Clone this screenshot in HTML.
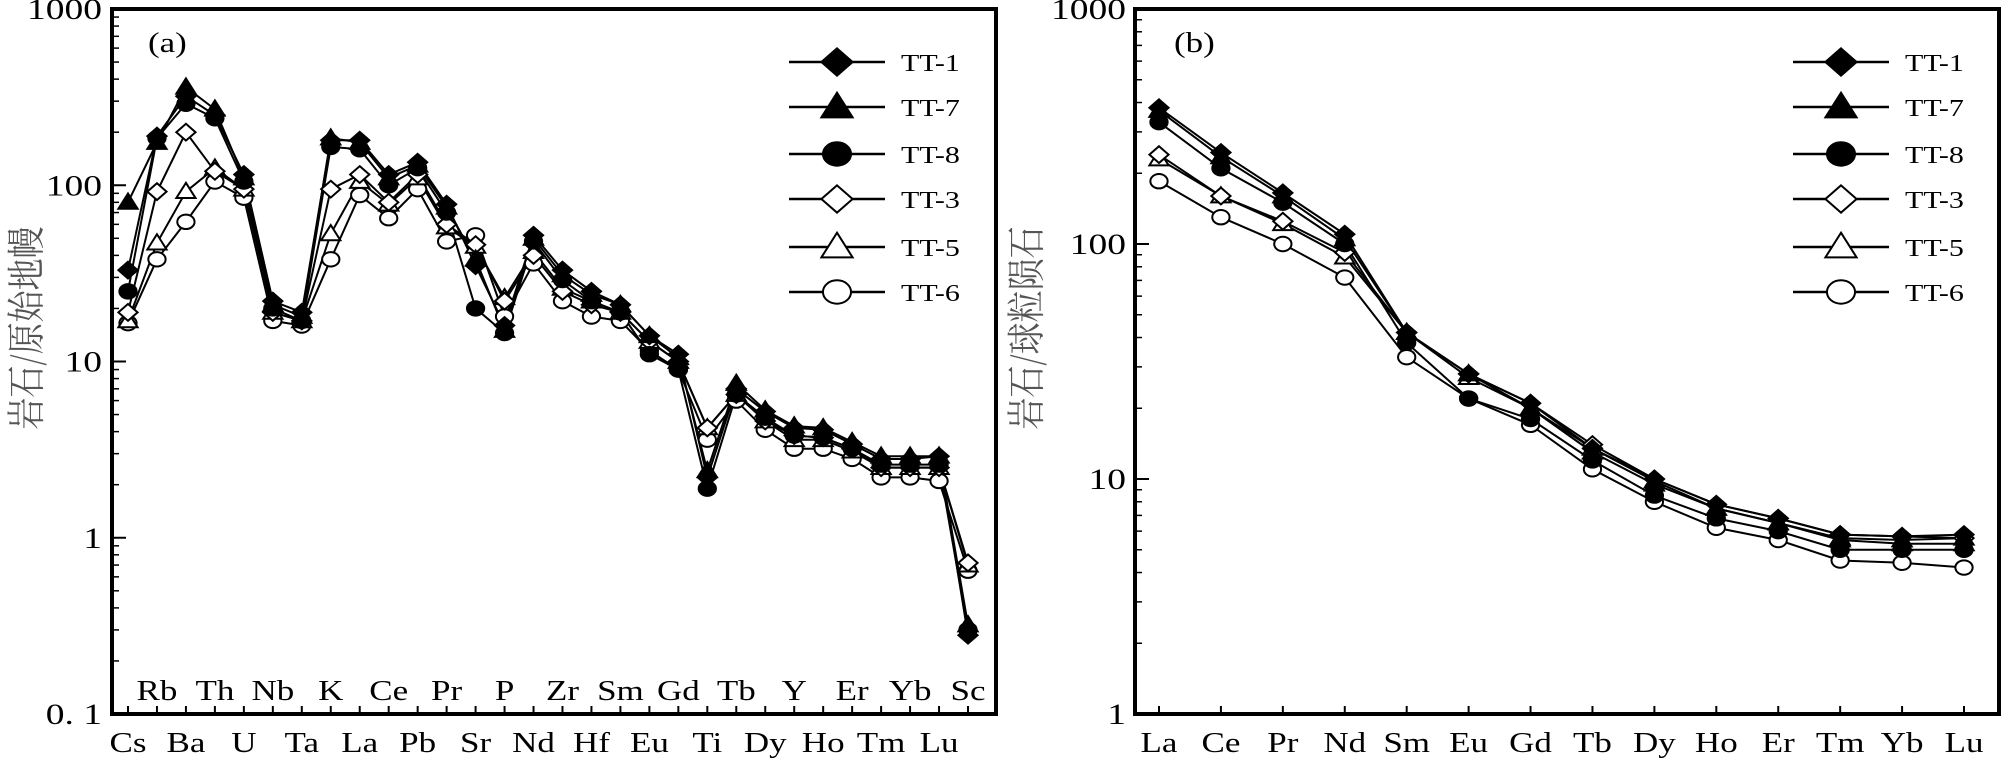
<!DOCTYPE html>
<html><head><meta charset="utf-8"><style>
html,body{margin:0;padding:0;background:#fff;}
svg{display:block;}
text{font-family:"Liberation Serif","Noto Serif CJK SC",serif;fill:#000;}
</style></head><body>
<svg id="chart" width="2008" height="758" viewBox="0 0 2008 758" xmlns="http://www.w3.org/2000/svg"></svg>
<script>
const catsA = ["Cs","Rb","Ba","Th","U","Nb","Ta","K","La","Ce","Pb","Pr","Sr","P","Nd","Zr","Hf","Sm","Eu","Gd","Ti","Tb","Dy","Y","Ho","Er","Tm","Yb","Lu","Sc"];
const catsB = ["La","Ce","Pr","Nd","Sm","Eu","Gd","Tb","Dy","Ho","Er","Tm","Yb","Lu"];
const seriesNames = ["TT-1","TT-7","TT-8","TT-3","TT-5","TT-6"];
const a_TT1 = [33,190,320,250,115,22,19,180,180,115,135,78,35,16,52,33,25,21,14,11,2.2,7,5.2,4.2,4.1,3.4,2.8,2.8,2.9,0.28];
const a_TT7 = [80,175,360,270,110,21,18,185,175,110,130,75,38,15,50,31,24,21,14,10.5,2.4,7.5,5.3,4.3,4.2,3.5,2.9,2.9,2.9,0.32];
const a_TT8 = [25,185,290,240,105,20,17,165,160,100,125,70,20,14.5,48,29,22,19,11,9,1.9,6.5,4.8,3.8,3.7,3.2,2.6,2.6,2.6,0.3];
const a_TT3 = [19,92,200,120,95,19,17,95,115,80,115,60,46,22,40,25,21,19,13,10,4.2,6.5,4.6,3.8,3.7,3.2,2.5,2.5,2.5,0.72];
const a_TT5 = [17,47,92,125,95,19,17,53,105,78,110,58,45,23,42,26,22,19,13,10,4.2,6.5,4.6,3.6,3.6,3.1,2.5,2.5,2.5,0.7];
const a_TT6 = [16.5,38,62,105,85,17,16,38,88,65,95,48,52,18,36,22,18,17,11.5,9,3.6,6,4.1,3.2,3.2,2.8,2.2,2.2,2.1,0.65];
const b_TT1 = [380,245,165,110,42,28,21,13.5,10,7.8,6.8,5.8,5.7,5.8];
const b_TT7 = [370,235,160,105,42,28,20,13,9.5,7.5,6.5,5.6,5.5,5.6];
const b_TT8 = [330,210,150,100,38,22,18,12,8.5,6.8,6,5,5,5];
const b_TT3 = [240,160,125,92,42,28,21,14,10,7.8,6.8,5.8,5.7,5.6];
const b_TT5 = [230,160,122,88,42,27,20,13.5,9.8,7.5,6.5,5.5,5.3,5.3];
const b_TT6 = [185,130,100,72,33,22,17,11,8,6.2,5.5,4.5,4.4,4.2];
const ticksA = [0.1,1,10,100,1000];
const tickLabelsA = ["0. 1","1","10","100","1000"];
const ticksB = [1,10,100,1000];
const tickLabelsB = ["1","10","100","1000"];
const markers = ["diamondF","triF","circF","diamondO","triO","circO"];

const NS="http://www.w3.org/2000/svg";
const svg=document.getElementById('chart');
function el(tag,attrs,parent){const e=document.createElementNS(NS,tag);for(const k in attrs)e.setAttribute(k,attrs[k]);(parent||svg).appendChild(e);return e;}
function txt(s,x,y,size,anchor,parent,name){
  const g=el('g',{transform:`translate(${x},${y}) scale(1.25,1)`},parent);
  const t=el('text',{x:0,y:0,'font-size':size,'text-anchor':anchor||'middle'},g);
  t.textContent=s;
  
  
  return t;
}
function marker(type,x,y,s,parent,name){
  const fill=type.endsWith('F')?'#000':'#fff';let m;
  const rx=s*1.2,ry=s;
  if(type.startsWith('diamond'))m=el('polygon',{points:`${x},${y-ry*1.05} ${x+rx},${y} ${x},${y+ry*1.05} ${x-rx},${y}`,fill,stroke:'#000','stroke-width':2},parent);
  else if(type.startsWith('tri'))m=el('polygon',{points:`${x},${y-ry*1.1} ${x+rx},${y+ry*0.8} ${x-rx},${y+ry*0.8}`,fill,stroke:'#000','stroke-width':2},parent);
  else m=el('ellipse',{cx:x,cy:y,rx:rx*0.9,ry:ry*0.9,fill,stroke:'#000','stroke-width':2},parent);
  
  
}
function panel(o){
  const g=el('g',{});
  
  
  const {x0,x1,y0,y1,lmin,lmax,cats,data}=o;
  const ys=v=>y1-(Math.log10(v)-lmin)/(lmax-lmin)*(y1-y0);
  const xs=i=>o.cx0+i*(o.cx1-o.cx0)/(cats.length-1);
  // minor ticks
  for(let d=lmin;d<lmax;d++)for(let k=2;k<10;k++){
    const y=ys(k*Math.pow(10,d));
    el('line',{x1:x0,x2:x0+7,y1:y,y2:y,stroke:'#000','stroke-width':1.5},g);
  }
  o.ticks.forEach((t,i)=>{const y=ys(t);
    el('line',{x1:x0,x2:x0+14,y1:y,y2:y,stroke:'#000','stroke-width':2},g);
    txt(o.tickLabels[i],o.tlx,y+10,30,'end',g,'y-tick-label');
  });
  cats.forEach((c,i)=>{const x=xs(i);
    el('line',{x1:x,x2:x,y1:y1,y2:y1-8,stroke:'#000','stroke-width':2},g);
    const row=o.twoRow&&i%2===1;
    txt(c,x,row?700:752,28,'middle',g,'x-tick-label');
  });
  // series
  data.forEach((arr,si)=>{
    const sg=el('g',{},g);
    
    
    const p=el('polyline',{points:arr.map((v,i)=>xs(i)+','+ys(v)).join(' '),fill:'none',stroke:'#000','stroke-width':2},sg);
    
    
  });
  for(let si=data.length-1;si>=0;si--){
    data[si].forEach((v,i)=>marker(markers[si],xs(i),ys(v),8,g,'data-point'));
  }
  // axes frame
  const r=el('rect',{x:x0,y:y0,width:x1-x0,height:y1-y0,fill:'none',stroke:'#000','stroke-width':4},g);
  
  
  txt(o.tag,o.tagx,52,28,'start',g,'panel-label');
  // legend
  const lg=el('g',{},g);
  
  
  const ly=[62,107,154,199,247,292];
  seriesNames.forEach((n,i)=>{
    const e=el('g',{},lg);
    
    
    el('line',{x1:o.lgx-48,x2:o.lgx+48,y1:ly[i],y2:ly[i],stroke:'#000','stroke-width':2.5},e);
    marker(markers[i],o.lgx,ly[i],13,e,'legend-marker');
    txt(n,o.lgx+64,ly[i]+9,24,'start',e,'legend-text');
  });
  // y title
  const yt=el('text',{x:0,y:0,'font-size':32,'text-anchor':'middle',fill:'#555',
    transform:`translate(${o.ytx},${o.yty}) rotate(-90) scale(1,1.2)`,
    style:'font-family:"Noto Serif CJK SC","Noto Sans CJK SC",serif;fill:#555'},g);
  yt.textContent=o.ytitle;
  
  
}
panel({name:'panel-a-primitive-mantle',x0:112,x1:996,y0:9,y1:714,lmin:-1,lmax:3,cats:catsA,cx0:128,cx1:968,
  data:[a_TT1,a_TT7,a_TT8,a_TT3,a_TT5,a_TT6],ticks:ticksA,tickLabels:tickLabelsA,tlx:102,twoRow:true,
  tag:'(a)',tagx:148,lgx:837,ytx:40,yty:328,ytitle:'岩石/原始地幔'});
panel({name:'panel-b-chondrite',x0:1135,x1:1999,y0:9,y1:714,lmin:0,lmax:3,cats:catsB,cx0:1159,cx1:1964,
  data:[b_TT1,b_TT7,b_TT8,b_TT3,b_TT5,b_TT6],ticks:ticksB,tickLabels:tickLabelsB,tlx:1126,twoRow:false,
  tag:'(b)',tagx:1174,lgx:1841,ytx:1040,yty:328,ytitle:'岩石/球粒陨石'});
</script>
</body></html>
